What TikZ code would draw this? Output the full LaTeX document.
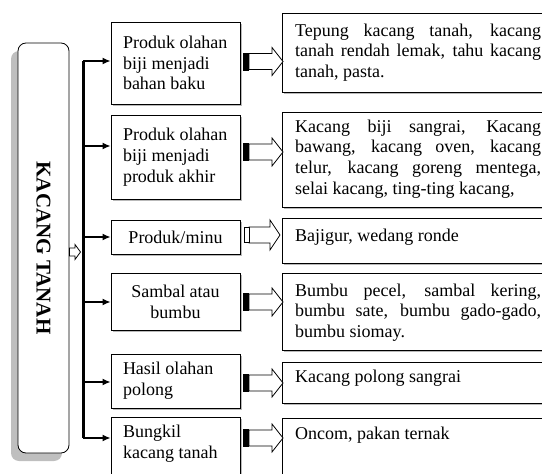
\documentclass[tikz,border=0pt]{standalone}
\usepackage{fontspec}
\setmainfont{Liberation Serif}
\usetikzlibrary{arrows.meta,shadows}
\newcommand\jl[1]{{\spaceskip=0pt\xspaceskip=0pt\makebox[246pt][s]{#1}}}
\begin{document}
\begin{tikzpicture}[x=1pt,y=-1pt,
  font=\fontsize{18}{20.7}\selectfont,
  shad/.style={drop shadow={shadow xshift=1.5pt,shadow yshift=-1.5pt,fill=gray!55,opacity=1}},
  lbox/.style={draw, line width=1pt, fill=white, minimum width=129pt, text width=105pt, inner xsep=12pt, inner ysep=0pt, shad},
  rbox/.style={draw, line width=1pt, fill=white, minimum width=278pt, inner sep=0pt, shad},
  rtext/.style={anchor=north west, inner sep=0pt, text width=246pt, align=flush left},
  spine/.style={line width=3pt},
  branch/.style={line width=1.2pt, -{Latex[length=8pt,width=7pt]}},
  blockarr/.pic={
    \fill[black] (0,-9) rectangle (6,9);
    \draw[fill=white, line width=0.8pt] (6,-8) -- (29,-8) -- (29,-14) -- (40,0) -- (29,14) -- (29,8) -- (6,8) -- cycle;
  },
  blockarrw/.pic={
    \draw[fill=white, line width=0.8pt] (6,-8) -- (27,-8) -- (27,-15) -- (37,0) -- (27,15) -- (27,8) -- (6,8) -- cycle;
    \draw[fill=white, line width=0.8pt] (1,-7.5) rectangle (6,7.5);
  }
]
\useasboundingbox (0,0) rectangle (542,474);

% main box
\fill[gray!50, rounded corners=8pt] (11,51) rectangle (62,461);
\node[draw, rounded corners=8pt, fill=white, minimum width=51pt, minimum height=410pt, line width=0.8pt, inner sep=0pt] (main) at (43.5,248) {};
\node[rotate=-90, inner sep=0pt, font=\bfseries\fontsize{21}{24}\selectfont] (title) at (main.center) {KACANG TANAH};

% small arrow from main box to spine
\draw[fill=white, line width=0.8pt] (main.east |- 0,248) -- (75,248) -- (75,244.5) -- (80.5,252) -- (75,259.5) -- (75,256) -- (main.east |- 0,256) -- cycle;

% left boxes
\node[lbox, minimum height=82pt, align=flush left] (L1) at (175.5,63) {Produk olahan\\biji menjadi\\bahan baku};
\node[lbox, minimum height=84pt, align=flush left] (L2) at (175.5,157) {Produk olahan\\biji menjadi\\produk akhir};
\node[lbox, minimum height=34pt, align=flush center] (L3) at (175.5,237) {Produk/minu};
\node[lbox, minimum height=57pt, align=flush center] (L4) at (175.5,301.5) {Sambal atau\\bumbu};
\node[lbox, minimum height=54pt, align=flush left] (L5) at (175.5,381) {Hasil olahan\\polong};
\node[lbox, minimum height=68pt] (L6) at (175.5,451) {};
\node[anchor=north west, inner sep=0pt, align=flush left] (L6t) at (123,425) {Bungkil\\kacang tanah};

% spine and branches
\coordinate (j1) at (83,61);
\coordinate (j2) at (83,146);
\coordinate (j3) at (83,237);
\coordinate (j4) at (83,302);
\coordinate (j5) at (83,382);
\coordinate (j6) at (83,438);
\draw[spine] (j1) -- (j6);
\draw[branch] (j1) -- (j1 -| L1.west);
\draw[branch] (j2) -- (j2 -| L2.west);
\draw[branch] (j3) -- (j3 -| L3.west);
\draw[branch] (j4) -- (j4 -| L4.west);
\draw[branch] (j5) -- (j5 -| L5.west);
\draw[branch] (j6) -- (j6 -| L6.west);

% right boxes
\node[rbox, minimum height=79pt] (R1) at (421,52.5) {};
\node[rbox, minimum height=95pt] (R2) at (421,159.5) {};
\node[rbox, minimum height=45pt] (R3) at (421,240.5) {};
\node[rbox, minimum height=77pt] (R4) at (421,311.5) {};
\node[rbox, minimum height=41pt] (R5) at (421,382.5) {};
\node[rbox, minimum height=72pt] (R6) at (421,454) {};

\node[rtext] (T1) at (295,23.5) {\jl{Tepung kacang tanah, kacang}\\\jl{tanah rendah lemak, tahu kacang}\\tanah, pasta.};
\node[rtext] (T2) at (295,119.5) {\jl{Kacang biji sangrai, Kacang}\\\jl{bawang, kacang oven, kacang}\\\jl{telur, kacang goreng mentega,}\\selai kacang, ting-ting kacang,};
\node[rtext] (T3) at (295,228.5) {Bajigur, wedang ronde};
\node[rtext] (T4) at (295,283.5) {\jl{Bumbu pecel, sambal kering,}\\\jl{bumbu sate, bumbu gado-gado,}\\bumbu siomay.};
\node[rtext] (T5) at (295,369.5) {Kacang polong sangrai};
\node[rtext] (T6) at (295,426.5) {Oncom, pakan ternak};

% block arrows between columns
\pic at (243,61.5) {blockarr};
\pic at (243,152) {blockarr};
\pic at (243,235) {blockarrw};
\pic at (243,302) {blockarr};
\pic at (243,383) {blockarr};
\pic at (243,438) {blockarr};
\end{tikzpicture}
\end{document}
